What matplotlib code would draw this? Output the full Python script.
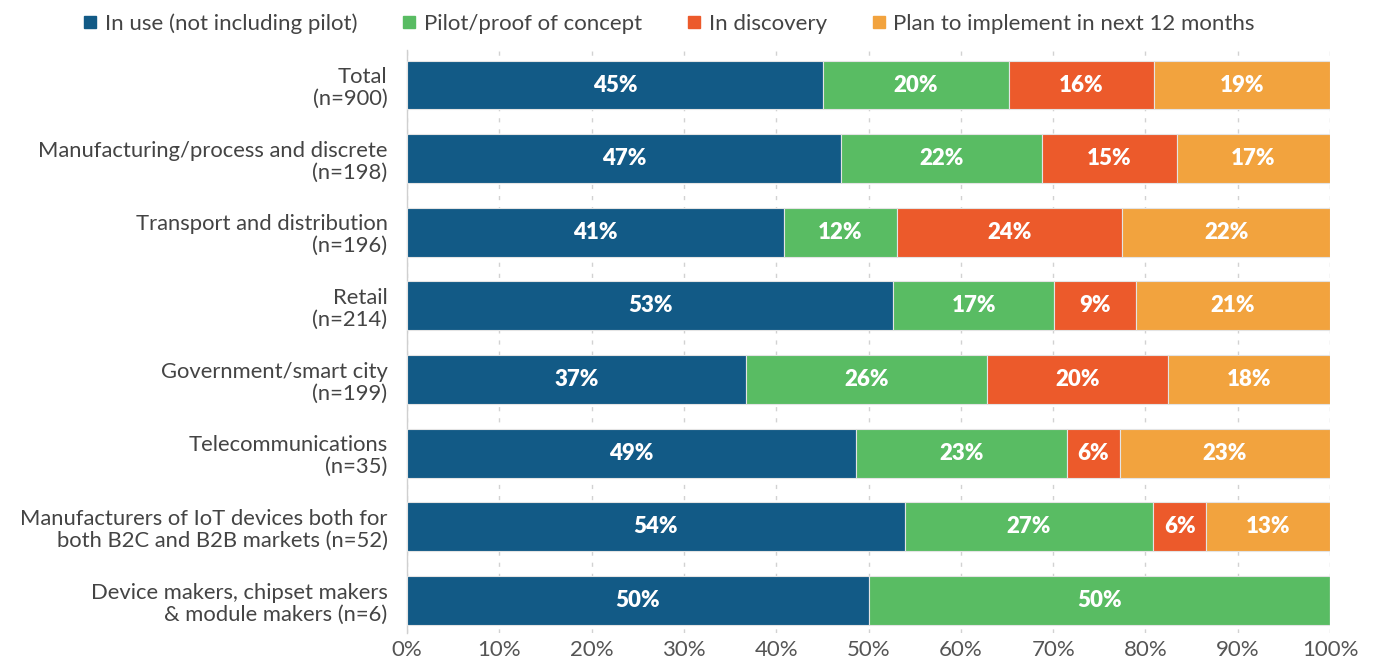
import matplotlib.pyplot as plt
from matplotlib.lines import Line2D
import numpy as np

plt.rcParams['font.family'] = ['Lato', 'DejaVu Sans']

# 行业分组（从上到下）
categories = [
    'Total\n(n=900)',
    'Manufacturing/process and discrete\n(n=198)',
    'Transport and distribution\n(n=196)',
    'Retail\n(n=214)',
    'Government/smart city\n(n=199)',
    'Telecommunications\n(n=35)',
    'Manufacturers of IoT devices both for\nboth B2C and B2B markets (n=52)',
    'Device makers, chipset makers\n& module makers (n=6)',
]

series_names = ['In use (not including pilot)', 'Pilot/proof of concept',
                'In discovery', 'Plan to implement in next 12 months']

# 各阶段占比（%）
in_use = [45.1, 47.0, 40.8, 52.7, 36.7, 48.6, 53.9, 50.0]
pilot = [20.1, 21.8, 12.3, 17.4, 26.1, 22.9, 26.9, 50.0]
discovery = [15.7, 14.6, 24.4, 8.9, 19.6, 5.7, 5.8, 0.0]
plan_12m = [19.1, 16.6, 22.5, 21.0, 17.6, 22.8, 13.4, 0.0]

colors = ['#125a86', '#59bc63', '#ec5a2b', '#f2a33e']

fig = plt.figure(figsize=(13.76, 6.67), dpi=100)
ax = fig.add_axes([0.2958, 0.051, 0.6708, 0.874])

y = np.arange(len(categories))
left = np.zeros(len(categories))
for vals, col in zip([in_use, pilot, discovery, plan_12m], colors):
    vals = np.array(vals)
    ax.barh(y, vals, left=left, height=0.665, color=col,
            edgecolor='#e4e4e4', linewidth=0.8, zorder=3)
    # 柱内百分比标签
    for yi, l, v in zip(y, left, vals):
        if v > 0:
            ax.text(l + v / 2, yi, f'{round(v):d}%', ha='center', va='center',
                    color='white', fontsize=16, fontweight='heavy', zorder=4)
    left += vals

ax.set_xlim(0, 100)
ax.set_ylim(7.44, -0.475)
ax.set_xticks(np.arange(0, 101, 10))
ax.set_xticklabels([f'{v}%' for v in range(0, 101, 10)])
ax.set_yticks(y)
ax.set_yticklabels(categories, fontsize=15.8, color='#444444', linespacing=1.12)
ax.tick_params(axis='x', length=0, labelsize=16, labelcolor='#555555', pad=5)
ax.tick_params(axis='y', length=0, pad=14)

# 虚线网格
ax.grid(axis='x', color='#d2d2d2', linestyle=(0, (3, 5)), linewidth=1, zorder=0)
ax.set_axisbelow(True)
for s in ['top', 'right', 'bottom']:
    ax.spines[s].set_visible(False)
ax.spines['left'].set_color('#d0d0d0')
ax.spines['left'].set_linewidth(1)

# 顶部图例
handles = [Line2D([], [], marker='s', linestyle='none', markersize=8,
                  markerfacecolor=c, markeredgecolor=c) for c in colors]
fig.legend(handles, series_names, loc='upper center', ncol=4,
           bbox_to_anchor=(0.486, 1.01), frameon=False, fontsize=16,
           handlelength=0.7, handletextpad=0.3, columnspacing=2.0,
           labelcolor='#444444')

fig.savefig('out.png', dpi=100)
